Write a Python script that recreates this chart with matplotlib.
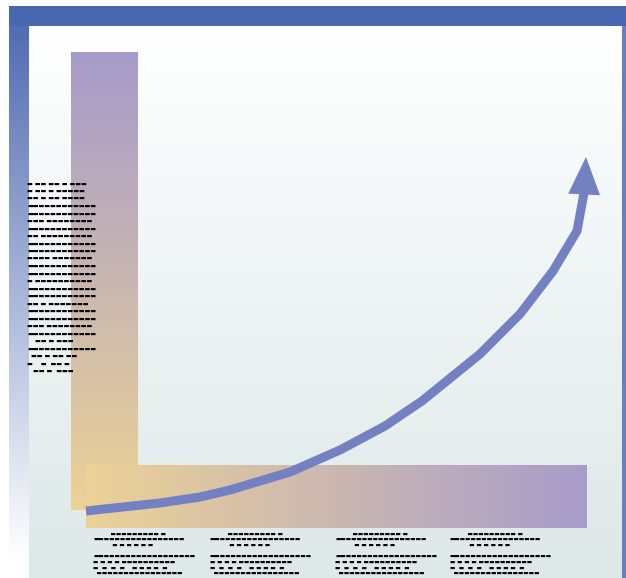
import numpy as np
from matplotlib import pyplot as plt

# curve of the growth arrow (pixel coords of the 626x578 picture)
curve_x = [86, 160, 200, 230, 290, 340, 385, 422, 480, 520, 553, 577, 584]
curve_y = [511, 503, 497, 490, 472, 450, 426, 401, 354, 314, 271, 231, 193]
tip = (586, 157)

# blurred label text (unreadable in the source, kept as dash text)
left_lines = ['▬ ▬▬ ▬▬ ▬ ▬▬▬', '▬ ▬▬ ▬ ▬▬▬▬▬', '▬▬ ▬ ▬▬ ▬▬▬▬', '▬▬▬▬▬▬▬▬▬▬▬▬',
              '▬▬▬▬▬▬▬▬▬▬▬▬', '▬▬▬ ▬▬▬▬▬▬▬▬', '▬▬▬▬▬▬▬▬▬▬▬▬', '▬▬ ▬▬▬▬▬▬▬▬▬',
              '▬▬▬▬▬▬▬▬▬▬▬▬', '▬▬▬▬▬▬▬▬▬▬▬▬', '▬▬▬▬ ▬▬▬▬▬▬▬', '▬▬▬▬▬▬▬▬▬▬▬▬',
              '▬▬▬▬▬▬▬▬▬▬▬▬', '▬ ▬▬▬▬▬▬▬▬▬▬', '▬▬▬▬▬▬▬▬▬▬▬▬', '▬▬▬▬▬▬▬▬▬▬▬▬',
              '▬▬ ▬ ▬▬▬▬▬▬▬', '▬▬▬▬▬▬▬▬▬▬▬▬', '▬▬▬▬▬▬▬▬▬▬▬▬', '▬▬▬ ▬▬▬▬▬▬▬▬',
              '▬▬▬▬▬▬▬▬▬▬▬▬', '    ▬▬ ▬ ▬▬▬', '▬▬▬▬▬▬▬▬▬▬▬▬', '  ▬▬ ▬ ▬▬ ▬▬',
              '▬    ▬  ▬▬ ▬', '   ▬▬ ▬  ▬▬▬']
bottom_cols = [93, 210, 335, 450]
bottom_lines = ['          ▬▬▬▬▬▬▬▬▬ ▬', '▬▬▬▬▬▬▬▬▬▬▬▬▬▬▬▬▬', '           ▬ ▬ ▬ ▬ ▬ ▬',
                '', '▬▬▬▬▬▬▬▬▬▬▬▬▬▬▬▬▬▬▬', '▬ ▬ ▬ ▬ ▬▬▬▬▬▬▬▬▬▬', '▬  ▬  ▬  ▬    ▬ ▬ ▬ ▬  ▬',
                '  ▬▬▬▬▬▬▬▬▬▬▬▬▬▬▬▬']

W, H = 626, 578
fig = plt.figure(figsize=(6.26, 5.78), dpi=100)
ax = fig.add_axes([0, 0, 1, 1])
ax.set_xlim(0, W)
ax.set_ylim(H, 0)
ax.axis('off')


def grad(c1, c2, n=256, horizontal=False):
    t = np.linspace(0, 1, n)[:, None]
    c = np.array(c1)[None, :] * (1 - t) + np.array(c2)[None, :] * t
    img = c[None, :, :] if horizontal else c[:, None, :]
    return img


def hexc(h):
    h = h.lstrip('#')
    return [int(h[i:i + 2], 16) / 255 for i in (0, 2, 4)]


# background
ax.imshow(grad(hexc('#ffffff'), hexc('#dde8e8')), extent=(29, W, H, 26), aspect='auto', zorder=0)
# frame: left band gradient, top band
ax.imshow(grad(hexc('#4a67b0'), hexc('#ffffff')), extent=(9, 29, 560, 6), aspect='auto', zorder=1)
ax.add_patch(plt.Rectangle((9, 6), W - 9, 20, color='#4767b0', lw=0, zorder=2))
ax.add_patch(plt.Rectangle((622, 26), 4, H, color='#6a7ec0', lw=0, zorder=2))

# bars
ax.imshow(grad(hexc('#a69bcb'), hexc('#ecd296')), extent=(71, 138, 510, 52), aspect='auto', zorder=3)
ax.imshow(grad(hexc('#ecd296'), hexc('#a89ccc'), horizontal=True), extent=(86, 587, 528, 465),
          aspect='auto', zorder=3)

# arrow
ax.plot(curve_x, curve_y, color='#7381c3', linewidth=6.5, solid_capstyle='butt', zorder=5)
ax.annotate('', xy=tip, xytext=(curve_x[-1], curve_y[-1] + 4),
            arrowprops=dict(arrowstyle='-|>,head_length=2.7,head_width=1.15', color='#7381c3',
                            lw=0, mutation_scale=10, shrinkA=0, shrinkB=0), zorder=6)

# text
for i, s in enumerate(left_lines):
    ax.text(27, 184 + i * 7.5, s, fontsize=4.4, color='black', va='center', ha='left', zorder=7,
            family='DejaVu Sans')
for x0 in bottom_cols:
    for i, s in enumerate(bottom_lines):
        ax.text(x0, 534 + i * 5.7, s, fontsize=4.1, color='black', va='center', ha='left', zorder=7,
                family='DejaVu Sans')

plt.savefig('out.png', dpi=100)
